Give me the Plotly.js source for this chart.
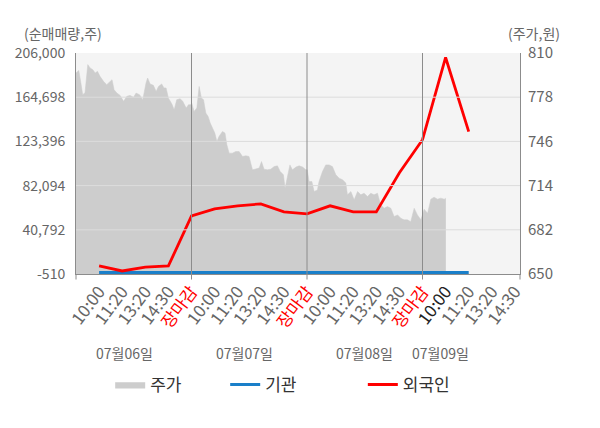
<!DOCTYPE html>
<html>
<head>
<meta charset="utf-8">
<script src="https://cdn.plot.ly/plotly-3.0.1.min.js"></script>
<style>
  html, body { margin: 0; padding: 0; background: #fff; }
  #chart { width: 600px; height: 428px; }
</style>
</head>
<body>
<div id="chart"></div>
<script>
/* ── Data ─────────────────────────────────────────────────────────────── */
const timeLabels = [
  '10:00', '11:20', '13:20', '14:30', '장마감',
  '10:00', '11:20', '13:20', '14:30', '장마감',
  '10:00', '11:20', '13:20', '14:30', '장마감',
  '10:00', '11:20', '13:20', '14:30',
];
const dayLabels = ['07월06일', '07월07일', '07월08일', '07월09일'];

// net buy volume (주), one point per time slot
const flowSlots  = [1, 2, 3, 4, 5, 6, 7, 8, 9, 10, 11, 12, 13, 14, 15, 16, 17];
const foreignNet = [7000, 2300, 6000, 7000, 53800, 60400, 63200, 65000, 57500,
                    55700, 63200, 57500, 57500, 94100, 125000, 201800, 132500];
const instNet    = [900, 800, 800, 900, 800, 900, 800, 800, 900,
                    800, 800, 900, 800, 800, 900, 800, 900];

// intraday price (원), slot position as fractional index
const priceSlot = [
  0.00, 0.11, 0.12, 0.21, 0.29, 0.39, 0.51, 0.61, 0.73, 0.83, 0.93, 1.04, 1.19, 1.33,
  1.48, 1.56, 1.65, 1.77, 1.91, 2.06, 2.20, 2.34, 2.49, 2.60, 2.75, 2.89, 3.03, 3.10,
  3.21, 3.35, 3.47, 3.57, 3.71, 3.81, 3.90, 4.00, 4.15, 4.25, 4.36, 4.51, 4.62, 4.77,
  4.87, 4.97,
  5.01, 5.11, 5.23, 5.33, 5.43, 5.52, 5.62, 5.72, 5.81, 5.91, 6.01, 6.10, 6.19, 6.34,
  6.45, 6.53, 6.63, 6.77, 6.92, 7.06, 7.21, 7.35, 7.49, 7.64, 7.78, 7.93, 8.03, 8.14,
  8.29, 8.43, 8.58, 8.72, 8.84, 8.98, 9.05, 9.16, 9.26, 9.37, 9.52, 9.66, 9.81, 9.95,
  10.01, 10.09, 10.21, 10.31, 10.45, 10.52, 10.67, 10.81, 10.96, 11.10, 11.25, 11.39,
  11.54, 11.68, 11.75, 11.90, 12.04, 12.19, 12.33, 12.47, 12.62, 12.76, 12.90, 13.05,
  13.19, 13.34, 13.48, 13.63, 13.77, 13.92, 14.06, 14.20, 14.35, 14.49, 14.64, 14.78,
  14.93,
  15.07, 15.22, 15.36, 15.50, 15.65, 15.79, 15.94, 16.01,
];
const price = [
  795.5, 796.7, 797.4, 788.5, 779.8, 781.3, 801.6, 799.2, 797.9, 795.5, 796.7, 793.1, 789.5, 787.1,
  789.5, 790.7, 783.4, 781.0, 779.3, 775.0, 778.6, 779.3, 777.9, 781.0, 779.8, 776.2, 788.3, 791.9,
  787.6, 786.6, 782.2, 785.8, 787.6, 784.7, 784.7, 777.4, 773.1, 768.9, 776.2, 776.9, 775.0, 770.2,
  772.6, 772.6,
  773.8, 767.7, 770.2, 785.8, 777.4, 776.2, 766.5, 764.1, 759.3, 755.7, 752.0, 745.9, 749.6, 753.2,
  752.0, 743.6, 737.5, 737.5, 738.7, 738.7, 735.1, 735.6, 735.1, 725.4, 725.9, 726.7, 731.4, 725.9,
  725.4, 725.9, 727.8, 728.3, 724.2, 721.8, 712.1, 721.8, 729.0, 725.4, 727.4, 728.3, 727.4, 725.4,
  725.4, 716.9, 716.9, 709.7, 710.9, 716.9, 724.2, 729.0, 729.0, 727.8, 721.8, 719.4,
  718.2, 715.8, 707.3, 709.7, 703.7, 709.7, 707.3, 708.5, 706.1, 708.5, 707.3, 708.5,
  700.0, 697.6, 698.8, 697.6, 691.6, 692.8, 690.4, 689.2, 689.2, 687.9, 697.6, 692.8,
  689.2,
  696.9, 694.0, 704.2, 705.6, 704.2, 704.9, 704.2, 704.9,
];

const volTicks   = [-510, 40792, 82094, 123396, 164698, 206000];
const priceTicks = [650, 682, 714, 746, 778, 810];
const dayBreaks  = [5, 10, 15];
const daySlots   = [2.1, 7.3, 12.5, 15.8];

/* ── Style ────────────────────────────────────────────────────────────── */
const FONT = '"Noto Sans CJK KR", "Noto Sans", sans-serif';
const COLORS = {
  price:   '#cdcdcd',
  inst:    '#1a7fc9',
  foreign: '#ff0000',
  text:    '#666666',
  grid:    '#dcdcdc',
  split:   '#8c8c8c',
  bg:      '#f4f4f4',
};

const tickText = timeLabels.map(function (t, i) {
  if (t === '장마감') return '<span style="color:#ff0000">' + t + '</span>';
  if (i === 15) return '<span style="color:#222222">' + t + '</span>';
  return t;
});

/* ── Traces ───────────────────────────────────────────────────────────── */
const traces = [
  {
    name: '주가',
    type: 'scatter',
    mode: 'lines',
    x: priceSlot,
    y: price,
    yaxis: 'y',
    fill: 'tozeroy',
    fillcolor: COLORS.price,
    line: { color: COLORS.price, width: 0.5 },
    showlegend: true,
    legend: 'legend',
  },
  {
    name: '기관',
    type: 'scatter',
    mode: 'lines',
    x: flowSlots,
    y: instNet,
    yaxis: 'y2',
    line: { color: COLORS.inst, width: 3 },
    showlegend: true,
    legend: 'legend2',
  },
  {
    name: '외국인',
    type: 'scatter',
    mode: 'lines',
    x: flowSlots,
    y: foreignNet,
    yaxis: 'y2',
    line: { color: COLORS.foreign, width: 2.8 },
    showlegend: true,
    legend: 'legend3',
  },
];

/* ── Layout ───────────────────────────────────────────────────────────── */
const shapes = [];
priceTicks.slice(1, -1).forEach(function (v) {
  shapes.push({
    type: 'line', layer: 'above', xref: 'paper', yref: 'y',
    x0: 0, x1: 1, y0: v, y1: v,
    line: { color: COLORS.grid, width: 1 },
  });
});
dayBreaks.forEach(function (d) {
  shapes.push({
    type: 'line', layer: 'above', xref: 'x', yref: 'paper',
    x0: d, x1: d, y0: -0.025, y1: 1,
    line: { color: COLORS.split, width: 1 },
  });
});
[0, 1].forEach(function (p) {
  shapes.push({
    type: 'line', layer: 'above', xref: 'paper', yref: 'paper',
    x0: p, x1: p, y0: -0.025, y1: 0,
    line: { color: COLORS.split, width: 1 },
  });
});

const annotations = dayLabels.map(function (d, i) {
  return {
    x: daySlots[i], xref: 'x', y: -0.357, yref: 'paper',
    text: d, showarrow: false, xanchor: 'center', yanchor: 'middle',
    font: { family: FONT, size: 14, color: COLORS.text },
  };
});
annotations.push({
  x: -0.122, xref: 'paper', y: 1.09, yref: 'paper',
  text: '(순매매량,주)', showarrow: false, xanchor: 'left', yanchor: 'middle',
  font: { family: FONT, size: 14, color: COLORS.text },
});
annotations.push({
  x: 0.968, xref: 'paper', y: 1.09, yref: 'paper',
  text: '(주가,원)', showarrow: false, xanchor: 'left', yanchor: 'middle',
  font: { family: FONT, size: 14, color: COLORS.text },
});

const legendBase = {
  orientation: 'h',
  yanchor: 'middle', y: -0.502,
  xanchor: 'left',
  bgcolor: 'rgba(0,0,0,0)',
  font: { family: FONT, size: 17, color: '#333333' },
};

const layout = {
  width: 600,
  height: 428,
  showlegend: true,
  paper_bgcolor: '#ffffff',
  plot_bgcolor: COLORS.bg,
  font: { family: FONT, color: COLORS.text, size: 14 },
  margin: { t: 53, r: 80, b: 154, l: 76 },
  xaxis: {
    range: [0, 19.22],
    tickvals: timeLabels.map(function (_, i) { return i + 1; }),
    ticktext: tickText,
    tickangle: -53,
    tickfont: { family: FONT, size: 17, color: COLORS.text },
    showgrid: false,
    zeroline: false,
    showline: true,
    linecolor: COLORS.split,
    linewidth: 1,
    ticks: '',
  },
  yaxis: {
    side: 'right',
    range: [650, 810],
    tickvals: priceTicks,
    ticktext: priceTicks.map(String),
    tickfont: { family: FONT, size: 15, color: COLORS.text },
    ticklabelstandoff: 4,
    showgrid: false,
    zeroline: false,
    showline: true,
    linecolor: COLORS.split,
    ticks: '',
  },
  yaxis2: {
    side: 'left',
    overlaying: 'y',
    range: [-510, 206000],
    tickvals: volTicks,
    ticktext: volTicks.map(function (v) { return v.toLocaleString('en-US'); }),
    tickfont: { family: FONT, size: 14, color: COLORS.text },
    ticklabelstandoff: 7,
    showgrid: false,
    zeroline: false,
    showline: true,
    linecolor: COLORS.split,
    ticks: '',
  },
  legend:  Object.assign({}, legendBase, { x: 0.077 }),
  legend2: Object.assign({}, legendBase, { x: 0.336 }),
  legend3: Object.assign({}, legendBase, { x: 0.646 }),
  shapes: shapes,
  annotations: annotations,
};

Plotly.newPlot('chart', traces, layout, { displayModeBar: false, responsive: false });
</script>
</body>
</html>
